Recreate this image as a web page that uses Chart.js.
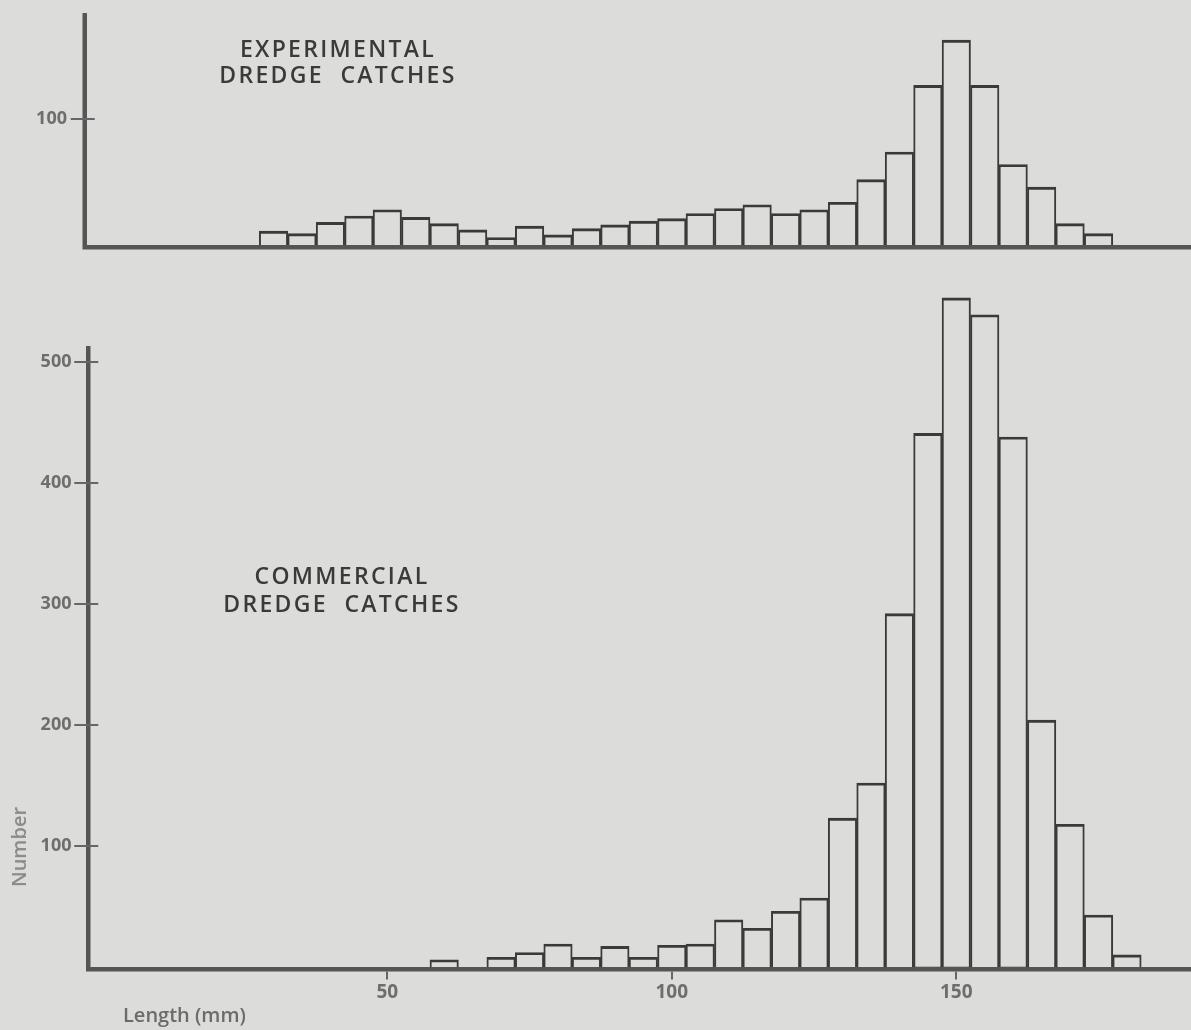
<!DOCTYPE html>
<html>
<head>
<meta charset="utf-8">
<script src="https://cdn.jsdelivr.net/npm/chart.js@4.4.1/dist/chart.umd.min.js"></script>
<style>
  html, body { margin: 0; padding: 0; }
  body {
    width: 1191px; height: 1030px; position: relative; overflow: hidden;
    background: #dcdcda; font-family: "Open Sans", sans-serif;
  }
  canvas { position: absolute; left: 0; }
  #topChart { top: 0; }
  #bottomChart { top: 270px; }
  .title {
    position: absolute; width: 400px; text-align: center; white-space: pre;
    font-size: 23px; font-weight: 600; letter-spacing: 2.3px; color: #3a3a3a;
  }
  #topTitle { left: 138px; top: 36px; line-height: 25.5px; }
  #bottomTitle { left: 142px; top: 562px; line-height: 27.5px; }
  #xTitle {
    position: absolute; left: 123px; top: 1005px; line-height: 20px;
    font-size: 20px; font-weight: 600; color: #6b6b6b;
  }
  #yTitle {
    position: absolute; left: 19px; top: 847px; line-height: 20px;
    transform: translate(-50%, -50%) rotate(-90deg);
    font-size: 20px; font-weight: 600; color: #8a8a8a; white-space: nowrap;
  }
</style>
</head>
<body>
<canvas id="topChart" width="1191" height="262"></canvas>
<canvas id="bottomChart" width="1191" height="760"></canvas>
<div class="title" id="topTitle">EXPERIMENTAL
DREDGE  CATCHES</div>
<div class="title" id="bottomTitle">COMMERCIAL
DREDGE  CATCHES</div>
<div id="xTitle">Length (mm)</div>
<div id="yTitle">Number</div>
<script>
// Length classes (mm, bin centre) and counts.
const TOP_LENGTHS = [30, 35, 40, 45, 50, 55, 60, 65, 70, 75, 80, 85, 90, 95, 100,
  105, 110, 115, 120, 125, 130, 135, 140, 145, 150, 155, 160, 165, 170, 175];
const TOP_COUNTS = [11, 9, 18, 23, 28, 22, 17, 12, 6, 15, 8, 13, 16, 19, 21,
  25, 29, 32, 25, 28, 34, 52, 74, 127, 163, 127, 64, 46, 17, 9];

const BOTTOM_LENGTHS = [60, 65, 70, 75, 80, 85, 90, 95, 100, 105, 110, 115, 120,
  125, 130, 135, 140, 145, 150, 155, 160, 165, 170, 175, 180];
const BOTTOM_COUNTS = [6, 0, 8, 12, 19, 8, 17, 8, 18, 19, 39, 32, 46,
  57, 123, 152, 292, 441, 553, 539, 438, 204, 118, 43, 10];

const TOP_Y_TICKS = [100];
const BOTTOM_Y_TICKS = [100, 200, 300, 400, 500];
const X_TICKS = [50, 100, 150];

const INK = "#3a3a3a";
const AXIS = "#555555";
const LABEL = "#6e6e6e";
const AXIS_W = 4.5;

// Thick frame: axis lines sit just outside the plot area, y ticks cross
// the axis, x ticks hang below it. The y axis stops at opts.axisMax, which
// the tallest commercial bars overshoot, as in the printed figure.
const axisFrame = {
  id: "axisFrame",
  afterDatasetsDraw(chart, args, opts) {
    const { ctx, chartArea: a, scales } = chart;
    const w = AXIS_W;
    const yTop = scales.y.getPixelForValue(opts.axisMax);
    ctx.save();
    ctx.strokeStyle = AXIS;
    ctx.lineWidth = w;
    ctx.beginPath();
    ctx.moveTo(a.left - w / 2, yTop);
    ctx.lineTo(a.left - w / 2, a.bottom + w);
    ctx.moveTo(a.left - w, a.bottom + w / 2);
    ctx.lineTo(a.right, a.bottom + w / 2);
    ctx.stroke();

    ctx.lineWidth = 2;
    ctx.strokeStyle = "#666";
    ctx.beginPath();
    for (const t of scales.y.ticks) {
      const py = Math.round(scales.y.getPixelForValue(t.value));
      ctx.moveTo(a.left - w / 2 - 14, py);
      ctx.lineTo(a.left - w / 2 + 10, py);
    }
    if (opts.xTicks) {
      for (const t of scales.x.ticks) {
        const px = Math.round(scales.x.getPixelForValue(t.value));
        ctx.moveTo(px, a.bottom + w);
        ctx.lineTo(px, a.bottom + w + 8);
      }
    }
    ctx.stroke();
    ctx.restore();
  },
};

function noPad(s) {
  s.paddingTop = 0; s.paddingBottom = 0; s.paddingLeft = 0; s.paddingRight = 0;
}

function histogram(canvasId, lengths, counts, cfg) {
  return new Chart(document.getElementById(canvasId), {
    type: "bar",
    data: {
      datasets: [{
        data: lengths.map((x, i) => ({ x, y: counts[i] })),
        backgroundColor: "rgba(0,0,0,0)",
        borderColor: INK,
        borderWidth: { top: 2.2, left: 1.3, right: 1.3, bottom: 0 },
        barPercentage: 1,
        categoryPercentage: 1,
      }],
    },
    options: {
      responsive: false, animation: false, devicePixelRatio: 1,
      layout: { padding: { top: cfg.padTop, right: 0, bottom: 0, left: 0 } },
      scales: {
        x: {
          type: "linear", min: cfg.xMin, max: cfg.xMax, offset: false,
          grid: { display: false, drawTicks: false, offset: false },
          border: { display: false },
          afterBuildTicks: (s) => { s.ticks = X_TICKS.map((v) => ({ value: v })); },
          afterFit: (s) => { s.height = cfg.xHeight; noPad(s); },
          ticks: {
            display: cfg.xLabels, padding: 14, color: LABEL, maxRotation: 0,
            font: { family: "Open Sans", size: 19, weight: "bold" },
          },
        },
        y: {
          min: 0, max: cfg.yMax,
          grid: { display: false, drawTicks: false },
          border: { display: false },
          afterBuildTicks: (s) => { s.ticks = cfg.yTicks.map((v) => ({ value: v })); },
          afterFit: (s) => { s.width = cfg.yWidth; noPad(s); },
          ticks: {
            padding: cfg.yPad, color: LABEL,
            font: { family: "Open Sans", size: 18, weight: "bold" },
          },
        },
      },
      plugins: {
        legend: { display: false },
        tooltip: { enabled: false },
        axisFrame: { xTicks: cfg.xLabels, axisMax: cfg.axisMax },
      },
    },
    plugins: [axisFrame],
  });
}

histogram("topChart", TOP_LENGTHS, TOP_COUNTS, {
  padTop: 13, xMin: -2.78, xMax: 191.25, xHeight: 17, xLabels: false,
  yMax: 184.6, axisMax: 184.6, yTicks: TOP_Y_TICKS, yWidth: 87, yPad: 20,
});

histogram("bottomChart", BOTTOM_LENGTHS, BOTTOM_COUNTS, {
  padTop: 7.3, xMin: -2.16, xMax: 191.25, xHeight: 63, xLabels: true,
  yMax: 570, axisMax: 513.2, yTicks: BOTTOM_Y_TICKS, yWidth: 90.5, yPad: 19,
});
</script>
</body>
</html>
